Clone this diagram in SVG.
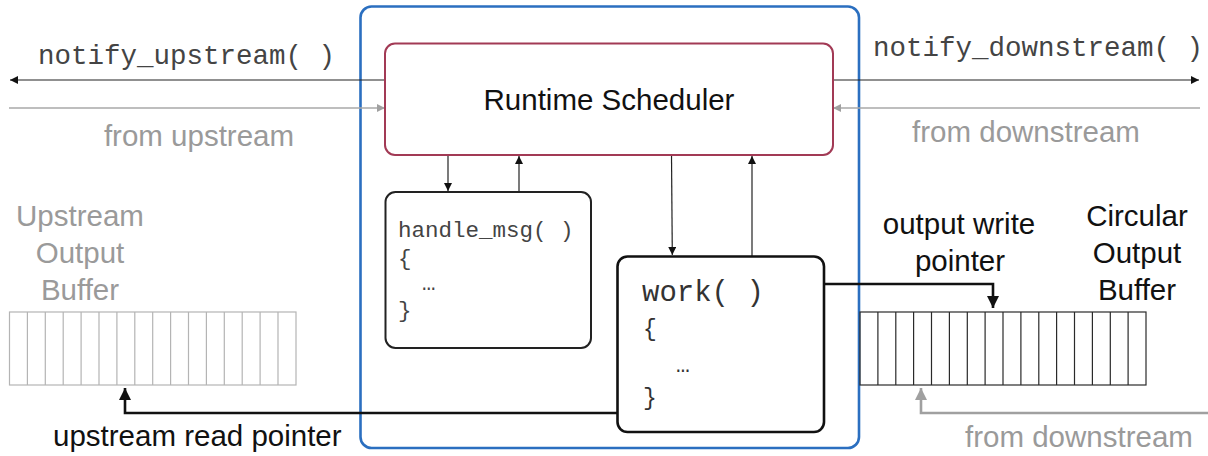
<svg xmlns="http://www.w3.org/2000/svg" width="1208" height="456" viewBox="0 0 1208 456">
  <style>
    .sans { font-family: "Liberation Sans", Arial, Helvetica, sans-serif; font-size: 29.5px; }
    .mono { font-family: "Liberation Mono", "Courier New", monospace; }
    .gray { fill: #9a9a9a; }
    .dark { fill: #111; }
    .mid { text-anchor: middle; }
    .thin { fill: none; stroke: #222; stroke-width: 1.2; }
    .thinGray { fill: none; stroke: #a8a8a8; stroke-width: 1.3; }
    .thick { fill: none; stroke: #111; stroke-width: 2.6; }
    .thickGray { fill: none; stroke: #a0a0a0; stroke-width: 2.6; }
    .cellLight { fill: none; stroke: #b4b4b4; stroke-width: 1.2; }
    .cellDark { fill: none; stroke: #2a2a2a; stroke-width: 1.2; }
  </style>
  <defs>
    <marker id="ahDark" viewBox="0 0 10 10" refX="10" refY="5" markerUnits="userSpaceOnUse" markerWidth="9" markerHeight="8" orient="auto">
      <path d="M0,0 L10,5 L0,10 z" fill="#111"/>
    </marker>
    <marker id="ahGray" viewBox="0 0 10 10" refX="10" refY="5" markerUnits="userSpaceOnUse" markerWidth="9" markerHeight="8" orient="auto">
      <path d="M0,0 L10,5 L0,10 z" fill="#a0a0a0"/>
    </marker>
    <marker id="ahBig" viewBox="0 0 10 10" refX="10" refY="5" markerUnits="userSpaceOnUse" markerWidth="13" markerHeight="12" orient="auto">
      <path d="M0,0 L10,5 L0,10 z" fill="#111"/>
    </marker>
    <marker id="ahBigGray" viewBox="0 0 10 10" refX="10" refY="5" markerUnits="userSpaceOnUse" markerWidth="13" markerHeight="12" orient="auto">
      <path d="M0,0 L10,5 L0,10 z" fill="#a0a0a0"/>
    </marker>
  </defs>

  <rect width="1208" height="456" fill="#fff"/>

  <!-- runtime container -->
  <g id="runtime">
    <rect x="360.5" y="6.5" width="498.5" height="441.5" rx="11" fill="none" stroke="#2b6fc0" stroke-width="2.6"/>
  </g>

  <!-- connectors -->
  <g id="connectors">
    <!-- upstream notifications -->
    <line class="thin" x1="385" y1="80" x2="10" y2="80" marker-end="url(#ahDark)"/>
    <line class="thinGray" x1="9" y1="108" x2="385" y2="108" marker-end="url(#ahGray)"/>
    <!-- downstream notifications -->
    <line class="thin" x1="833" y1="80" x2="1199" y2="80" marker-end="url(#ahDark)"/>
    <line class="thinGray" x1="1200" y1="108" x2="833" y2="108" marker-end="url(#ahGray)"/>
    <!-- scheduler <-> handle_msg -->
    <line class="thin" x1="448" y1="155" x2="448" y2="191" marker-end="url(#ahDark)"/>
    <line class="thin" x1="519" y1="192" x2="519" y2="156" marker-end="url(#ahDark)"/>
    <!-- scheduler <-> work -->
    <line class="thin" x1="671.5" y1="155" x2="672.3" y2="255" marker-end="url(#ahDark)"/>
    <line class="thin" x1="752" y1="256" x2="752" y2="156" marker-end="url(#ahDark)"/>
    <!-- read / write pointers -->
    <polyline class="thick" points="617,413 125,413 125,388" marker-end="url(#ahBig)"/>
    <polyline class="thick" points="824,284 993,284 993,308" marker-end="url(#ahBig)"/>
    <polyline class="thickGray" points="1208,413 921,413 921,388" marker-end="url(#ahBigGray)"/>
  </g>

  <!-- scheduler -->
  <g id="scheduler">
    <rect x="385" y="43.5" width="448" height="111.5" rx="10" fill="#fff" stroke="#a23a55" stroke-width="2"/>
    <text class="sans dark mid" x="609" y="110">Runtime Scheduler</text>
  </g>

  <!-- handle_msg block -->
  <g id="handle-msg">
    <rect x="385.5" y="192" width="205.5" height="156" rx="10" fill="#fff" stroke="#222" stroke-width="2"/>
    <g class="mono" font-size="22.5" fill="#444">
      <text x="398" y="237">handle_msg( )</text>
      <text x="398" y="265">{</text>
      <text x="422" y="290">…</text>
      <text x="398" y="317">}</text>
    </g>
  </g>

  <!-- work block -->
  <g id="work">
    <rect x="617.5" y="256.5" width="206.5" height="175.5" rx="10" fill="#fff" stroke="#111" stroke-width="2.6"/>
    <g class="mono" fill="#333">
      <text x="642" y="301" font-size="29">work( )</text>
      <text x="643" y="336" font-size="23">{</text>
      <text x="676" y="372" font-size="23">…</text>
      <text x="643" y="405" font-size="23">}</text>
    </g>
  </g>

  <!-- upstream output buffer -->
  <g id="upstream-buffer">
    <rect class="cellLight" x="9.5" y="312" width="286.5" height="73"/>
    <path class="cellLight" d="M27.4,312V385M45.3,312V385M63.2,312V385M81.1,312V385M99,312V385M116.9,312V385M134.8,312V385M152.7,312V385M170.6,312V385M188.5,312V385M206.4,312V385M224.3,312V385M242.2,312V385M260.1,312V385M278,312V385"/>
    <g class="sans gray mid">
      <text x="80" y="226">Upstream</text>
      <text x="80" y="263">Output</text>
      <text x="80" y="300">Buffer</text>
    </g>
  </g>

  <!-- circular output buffer -->
  <g id="circular-buffer">
    <rect class="cellDark" x="860" y="312" width="286" height="73"/>
    <path class="cellDark" d="M877.9,312V385M895.8,312V385M913.6,312V385M931.5,312V385M949.4,312V385M967.3,312V385M985.1,312V385M1003,312V385M1020.9,312V385M1038.8,312V385M1056.6,312V385M1074.5,312V385M1092.4,312V385M1110.3,312V385M1128.1,312V385"/>
    <g class="sans dark mid">
      <text x="1137" y="226">Circular</text>
      <text x="1137" y="263">Output</text>
      <text x="1137" y="300">Buffer</text>
    </g>
  </g>

  <!-- labels -->
  <g id="labels">
    <text class="mono" x="38" y="64" font-size="27.5" fill="#444">notify_upstream( )</text>
    <text class="mono" x="873" y="56" font-size="27.5" fill="#444">notify_downstream( )</text>
    <text class="sans gray mid" x="199" y="146">from upstream</text>
    <text class="sans gray mid" x="1026" y="142">from downstream</text>
    <text class="sans dark mid" x="959" y="234">output write</text>
    <text class="sans dark mid" x="960" y="271">pointer</text>
    <text class="sans dark" x="53" y="446">upstream read pointer</text>
    <text class="sans gray" x="965" y="447">from downstream</text>
  </g>
</svg>
